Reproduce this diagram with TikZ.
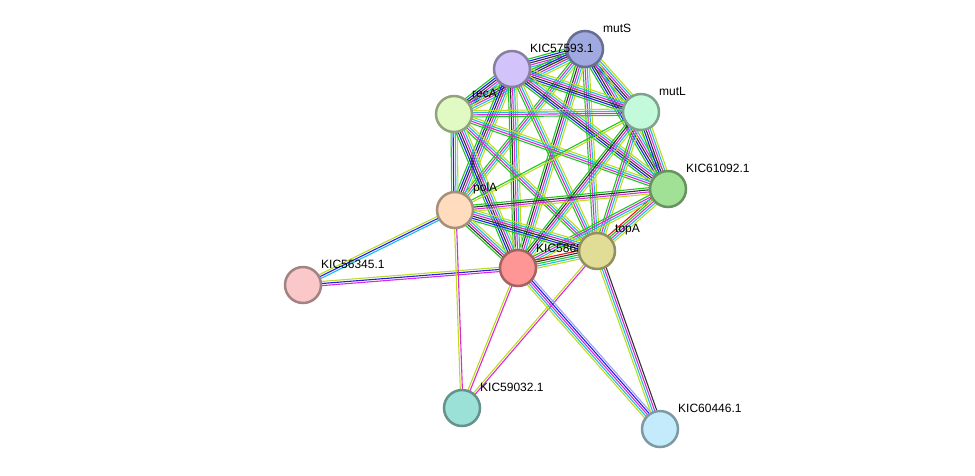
\documentclass[tikz,border=0pt]{standalone}
\usepackage{fontspec}
\setmainfont{Liberation Sans}
\usetikzlibrary{calc}
\definecolor{cnb}{RGB}{30,200,30}
\definecolor{cfu}{RGB}{240,20,20}
\definecolor{cco}{RGB}{30,30,240}
\definecolor{cex}{RGB}{50,50,50}
\definecolor{cme}{RGB}{220,40,220}
\definecolor{cdb}{RGB}{30,190,220}
\definecolor{ctm}{RGB}{190,220,30}
\definecolor{cho}{RGB}{160,160,240}
\definecolor{fmutS}{RGB}{160,170,225}
\definecolor{fk575}{RGB}{210,195,250}
\definecolor{frecA}{RGB}{225,250,195}
\definecolor{fmutL}{RGB}{195,250,220}
\definecolor{fk610}{RGB}{160,225,150}
\definecolor{fpolA}{RGB}{255,220,190}
\definecolor{fk586}{RGB}{255,150,150}
\definecolor{ftopA}{RGB}{225,220,150}
\definecolor{fk563}{RGB}{250,200,200}
\definecolor{fk590}{RGB}{155,225,215}
\definecolor{fk604}{RGB}{195,235,252}
\newcommand{\edg}[3]{%
  \edef\lst{#3}%
  \foreach \cc [count=\ii] in \lst {\xdef\nn{\ii}}%
  \foreach \cc [count=\ii] in \lst {%
    \pgfmathsetmacro{\oo}{(\ii-(\nn+1)/2)*2.1}%
    \draw[\cc,line width=1.1pt] ($(#1)!\oo pt!90:(#2)$) -- ($(#2)!\oo pt!-90:(#1)$);}%
}
\tikzset{prot/.style={circle,minimum size=36pt,inner sep=0pt,line width=2.5pt,draw=#1!65!black,fill=#1},
 lab/.style={font=\fontsize{12pt}{13pt}\selectfont,anchor=south west,inner sep=0pt}}
\begin{document}
\begin{tikzpicture}[x=1pt,y=-1pt]
\useasboundingbox (0,0) rectangle (975,475);
\coordinate (mutS) at (585,49);
\coordinate (k575) at (512,69);
\coordinate (recA) at (454,114);
\coordinate (mutL) at (641,112);
\coordinate (k610) at (668,189);
\coordinate (polA) at (455,210);
\coordinate (topA) at (597,251);
\coordinate (k586) at (518,268);
\coordinate (k563) at (303,285);
\coordinate (k590) at (462,408);
\coordinate (k604) at (660,429);
\def\efull{cnb,cco,cex,cme,cdb,ctm}
\def\emdl{cnb,cme,cdb,ctm}
\def\esm{cnb,ctm}
\edg{mutS}{k575}{\efull}
\edg{mutS}{recA}{\efull}
\edg{mutS}{mutL}{\efull}
\edg{mutS}{k610}{\efull}
\edg{mutS}{polA}{\emdl}
\edg{mutS}{topA}{\emdl}
\edg{mutS}{k586}{cnb,cex,cme,cdb,ctm}
\edg{k575}{recA}{\efull}
\edg{k575}{mutL}{\efull}
\edg{k575}{k610}{\efull}
\edg{k575}{polA}{\efull}
\edg{k575}{topA}{\emdl}
\edg{k575}{k586}{cnb,cex,cme,cdb,ctm}
\edg{recA}{mutL}{\emdl}
\edg{recA}{k610}{\emdl}
\edg{recA}{polA}{cnb,cco,cdb,ctm}
\edg{recA}{topA}{\emdl}
\edg{recA}{k586}{\efull}
\edg{mutL}{k610}{\efull}
\edg{mutL}{polA}{\esm}
\edg{mutL}{topA}{\emdl}
\edg{mutL}{k586}{cnb,cex,cme,cdb,ctm}
\edg{k610}{polA}{cnb,cex,cme,ctm}
\edg{k610}{topA}{cfu,cnb,cme,cdb,ctm}
\edg{k610}{k586}{\emdl}
\edg{polA}{topA}{\efull}
\edg{polA}{k586}{cnb,cex,cme,cdb,ctm}
\edg{topA}{k586}{cfu,cex,cnb,cdb,ctm}
\edg{k563}{polA}{cdb,cco,ctm}
\edg{k563}{k586}{cme,cco,ctm}
\edg{k590}{polA}{cme,ctm}
\edg{k590}{k586}{cme,ctm}
\edg{k590}{topA}{cme,ctm}
\edg{k604}{k586}{cho,cco,cme,cdb,ctm}
\edg{k604}{topA}{cex,cme,cdb,ctm}
\node[prot=fmutS] (nmutS) at (mutS) {};
\node[prot=fk575] (nk575) at (k575) {};
\node[prot=frecA] (nrecA) at (recA) {};
\node[prot=fmutL] (nmutL) at (mutL) {};
\node[prot=fk610] (nk610) at (k610) {};
\node[prot=fpolA] (npolA) at (polA) {};
\node[prot=fk586] (nk586) at (k586) {};
\node[lab] (lk586) at (536,253) {KIC58686.1};
\node[prot=ftopA] (ntopA) at (topA) {};
\node[prot=fk563] (nk563) at (k563) {};
\node[prot=fk590] (nk590) at (k590) {};
\node[prot=fk604] (nk604) at (k604) {};
\node[lab] (lmutS) at (603,33) {mutS};
\node[lab] (lk575) at (530,53) {KIC57593.1};
\node[lab] (lrecA) at (472,98) {recA};
\node[lab] (lmutL) at (659,96) {mutL};
\node[lab] (lk610) at (686,173) {KIC61092.1};
\node[lab] (lpolA) at (473,194) {polA};
\node[lab] (ltopA) at (615,235) {topA};
\node[lab] (lk563) at (321,269) {KIC56345.1};
\node[lab] (lk590) at (480,392) {KIC59032.1};
\node[lab] (lk604) at (678,413) {KIC60446.1};
\end{tikzpicture}
\end{document}
